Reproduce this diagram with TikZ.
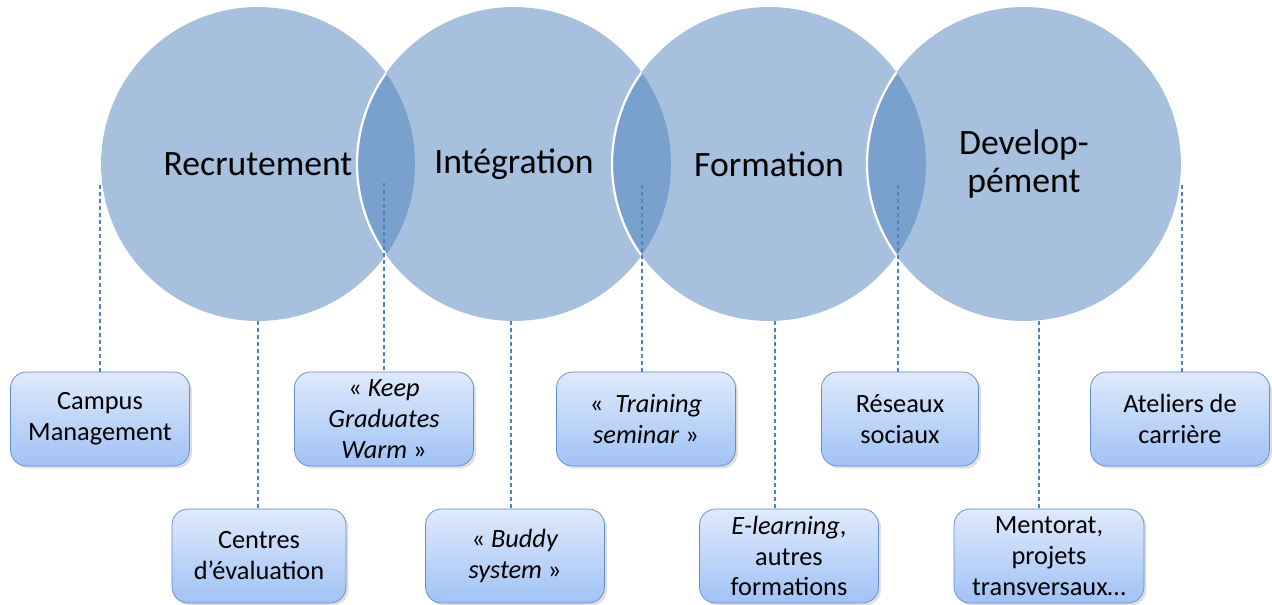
\documentclass[tikz,border=0pt]{standalone}
\usepackage{fontspec}
\setmainfont{Carlito}
\usetikzlibrary{shadows}
\definecolor{accent}{RGB}{79,129,189}
\definecolor{boxline}{RGB}{100,140,200}
\definecolor{boxtop}{RGB}{223,234,252}
\definecolor{boxbot}{RGB}{160,194,245}

\begin{document}
\begin{tikzpicture}[x=0.02cm,y=-0.02cm,
 stage/.style={circle,minimum size=6.28cm,inner sep=0pt,fill=accent,
  fill opacity=0.5,text opacity=1,align=center,
  font=\fontsize{20.3}{21.5}\selectfont},
 task/.style={rounded corners=0.32cm,draw=boxline,top color=boxtop,
  bottom color=boxbot,minimum width=#1,minimum height=1.88cm,inner sep=0pt,
  align=center,font=\fontsize{15}{17.6}\selectfont,
  drop shadow={opacity=0.25,shadow xshift=0.05cm,shadow yshift=-0.05cm}},
 task/.default=3.58cm,
 link/.style={draw=accent,line width=0.6pt,dash pattern=on 2.3pt off 1.7pt}]

 \useasboundingbox (0,0) rectangle (1272,605);

 % the four stages
 \node[stage] (recr) at (258,164) {Recrutement};
 \node[stage] (integ) at (514,164) {Intégration};
 \node[stage] (form) at (769,164) {Formation};
 \node[stage] (dev) at (1024,164) {Develop-\\pément};
 % white rim of each stage where it covers the previous one
 \foreach\A/\B in {recr/integ,integ/form,form/dev}
 {\begin{scope}
   \clip (\A.center) circle (157);
   \draw[white,line width=0.045cm] (\B.center) circle (157);
  \end{scope}}

 % actions, upper row
 \node[task] (campus) at (100,419) {Campus\\Management};
 \node[task] (keep) at (384,419) {« \textit{Keep}\\\textit{Graduates}\\\textit{Warm} »};
 \node[task] (train) at (646,419) {«~ \textit{Training}\\\textit{seminar} »};
 \node[task=3.14cm] (reseau) at (900,419) {Réseaux\\sociaux};
 \node[task] (atelier) at (1180,419) {Ateliers de\\carrière};
 % actions, lower row
 \node[task=3.48cm] (centre) at (259,556) {Centres\\d’évaluation};
 \node[task] (buddy) at (515,556) {« \textit{Buddy}\\\textit{system} »};
 \node[task] (elearn) at (789,556) {\textit{E-learning},\\autres\\formations};
 \node[task=3.8cm] (mentor) at (1049,556) {Mentorat,\\projets\\transversaux…};

 % dashed links
 \coordinate (u1) at (100,185);
 \coordinate (u2) at (384,183);
 \coordinate (u3) at (642,185);
 \coordinate (u4) at (898,185);
 \coordinate (u5) at (1182,185);
 \coordinate (l1) at (258,321);
 \coordinate (l2) at (511,321);
 \coordinate (l3) at (775,321);
 \coordinate (l4) at (1039,321);
 \foreach\P/\N in {u1/campus,u2/keep,u3/train,u4/reseau,u5/atelier,
  l1/centre,l2/buddy,l3/elearn,l4/mentor}
 {\draw[link] (\P) -- (\P |- \N.north);}
\end{tikzpicture}
\end{document}
